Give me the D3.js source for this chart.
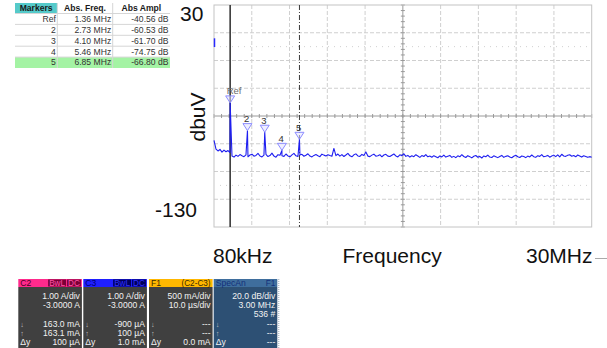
<!DOCTYPE html>
<html>
<head>
<meta charset="utf-8">
<script src="https://cdn.jsdelivr.net/npm/d3@7"></script>
<style>
  html, body { margin: 0; padding: 0; background: #fff; }
  svg { display: block; font-family: "Liberation Sans", Arial, sans-serif; }
</style>
</head>
<body>
<svg id="chart" width="607" height="348"></svg>
<script>
// ---- spectrum data (dBuV), evenly spaced bins from 80 kHz to 30 MHz ----
const freqStart = 0.08;   // MHz
const freqStop = 30;      // MHz
const ampTop = 30;
const ampBottom = -130;

const spectrum = [
  -67.5, -73.8, -75.2, -74.1, -76.0, -74.6, -75.8, -74.9, -76.3, -78.9,
  -79.6, -78.2, -79.1, -77.8, -78.6, -79.3, -78.0, -79.4, -78.1, -77.5,
  -79.0, -78.4, -76.9, -78.8, -79.5, -78.2, -77.6, -79.2, -78.5, -76.8,
  -78.9, -79.7, -77.9, -78.3, -78.6, -79.1, -77.4, -78.8, -79.4, -78.0,
  -76.9, -78.7, -79.2, -78.1, -77.6, -79.0, -78.3, -77.2, -78.9, -79.5,
  -78.4, -77.8, -78.6, -79.3, -77.5, -78.2, -78.8, -77.9, -78.5, -79.0,
  -73.4, -78.6, -77.4, -78.9, -77.8, -79.2, -78.1, -76.9, -78.7, -79.4,
  -78.0, -77.3, -78.8, -79.1, -77.7, -78.4, -75.9, -78.9, -79.3, -78.2,
  -77.5, -79.0, -78.6, -77.9, -79.4, -78.1, -77.6, -78.9, -79.2, -78.3,
  -77.4, -78.8, -79.5, -78.0, -78.6, -77.2, -79.1, -78.4, -79.6, -78.7,
  -79.3, -77.9, -78.8, -79.8, -78.5, -79.2, -77.8, -79.4, -78.9, -79.7,
  -78.6, -79.3, -80.1, -78.8, -79.5, -78.2, -79.6, -79.0, -78.4, -79.8,
  -79.1, -80.0, -78.7, -79.4, -77.9, -79.2, -79.9, -78.6, -79.3, -80.2,
  -79.0, -78.5, -79.7, -79.1, -80.3, -78.8, -79.4, -78.2, -79.6, -79.9,
  -78.7, -79.3, -80.0, -79.2, -78.4, -79.8, -79.1, -78.6, -79.5, -80.1,
  -79.0, -78.3, -79.4, -79.9, -78.8, -79.2, -80.0, -78.9, -79.5, -78.1,
  -79.3, -79.8, -78.6, -79.1, -77.8, -79.4, -79.0, -78.4, -79.7, -78.9,
  -78.2, -79.3, -78.0, -79.5, -77.6, -78.8, -79.1, -78.3, -77.9, -79.0,
  -78.5, -79.4, -78.1, -78.8, -79.6, -78.7, -79.2, -79.8, -79.3, -79.7
];

// ---- measured markers ----
const markerNames = ["Ref", "2", "3", "4", "5"];
const markerFreqs = [1.36, 2.73, 4.10, 5.46, 6.85];      // MHz
const markerAmps  = [-40.56, -60.53, -61.70, -74.75, -66.80]; // dB

// ---- axis text ----
const yTopLabel = "30";
const yBottomLabel = "-130";
const yTitle = "dbuV";
const xStartLabel = "80kHz";
const xTitle = "Frequency";
const xStopLabel = "30MHz";
const levelLines = [0, -100];      // faint dotted reference levels
const levelIndicator = [6, -0.3];  // short blue tick on the left edge

// ---- channel readout panels ----
const panelNames = ["C2", "C3", "F1", "SpecAn"];
const panelTags = [["BwL", "DC"], ["BwL", "DC"], ["(C2-C3)"], ["F1"]];
const panelRows = [
  ["1.00 A/div", "-3.0000 A", "", "163.0 mA", "163.1 mA", "100 µA"],
  ["1.00 A/div", "-3.0000 A", "", "-900 µA", "100 µA", "1.0 mA"],
  ["500 mA/div", "10.0 µs/div", "", "---", "---", "0.0 mA"],
  ["20.0 dB/div", "3.00 MHz", "536 #", "---", "---", "---"]
];
const panelRowIcons = ["", "", "", "↓", "↑", "Δy"];

// ---- marker table headings ----
const tableHeads = ["Markers", "Abs. Freq.", "Abs Ampl"];

// ================= drawing =================
const svg = d3.select("#chart");
const plot = { left: 214, right: 591.7, top: 5, bottom: 227 };

const x = d3.scaleLinear().domain([freqStart, freqStop]).range([plot.left, plot.right]);
const y = d3.scaleLinear().domain([ampTop, ampBottom]).range([plot.top, plot.bottom]);
const binFreq = d3.scaleLinear().domain([0, spectrum.length - 1]).range([freqStart, freqStop]);

// grid: 10 horizontal divisions, 8 vertical divisions
const xDivs = d3.range(11).map(i => freqStart + i * (freqStop - freqStart) / 10);
const yDivs = d3.range(ampTop, ampBottom - 1, -20);
const grid = svg.append("g");

grid.selectAll("line.vg").data(xDivs.slice(1, -1)).join("line")
  .attr("x1", d => x(d)).attr("x2", d => x(d))
  .attr("y1", plot.top).attr("y2", plot.bottom)
  .attr("stroke", (d, i) => i === 4 ? "#9a9a9a" : "#cfcfcf")
  .attr("stroke-dasharray", (d, i) => i === 4 ? null : "4,2")
  .attr("stroke-width", 1);

grid.selectAll("line.hg").data(yDivs.slice(1, -1)).join("line")
  .attr("x1", plot.left).attr("x2", plot.right)
  .attr("y1", d => y(d)).attr("y2", d => y(d))
  .attr("stroke", d => d === -50 ? "#9a9a9a" : "#cfcfcf")
  .attr("stroke-dasharray", d => d === -50 ? null : "4,2")
  .attr("stroke-width", 1);

grid.selectAll("line.lv").data(levelLines).join("line")
  .attr("x1", plot.left + 6).attr("x2", plot.right)
  .attr("y1", d => y(d)).attr("y2", d => y(d))
  .attr("stroke", "#d0d0d0").attr("stroke-dasharray", "1,5");

// minor ticks along the centre cross
const xMinor = d3.range(51).map(i => freqStart + i * (freqStop - freqStart) / 50);
const yMinor = d3.range(41).map(i => ampTop + i * (ampBottom - ampTop) / 40);
grid.selectAll("line.xm").data(xMinor).join("line")
  .attr("x1", d => x(d)).attr("x2", d => x(d))
  .attr("y1", y(-50) - 2).attr("y2", y(-50) + 2)
  .attr("stroke", "#9a9a9a");
grid.selectAll("line.ym").data(yMinor).join("line")
  .attr("x1", x(xDivs[5]) - 2).attr("x2", x(xDivs[5]) + 2)
  .attr("y1", d => y(d)).attr("y2", d => y(d))
  .attr("stroke", "#9a9a9a");

// frame
svg.append("rect")
  .attr("x", plot.left).attr("y", plot.top)
  .attr("width", plot.right - plot.left).attr("height", plot.bottom - plot.top)
  .attr("fill", "none").attr("stroke", "#c4c4c4");

// level indicator on the left edge
svg.append("line")
  .attr("x1", plot.left + 0.5).attr("x2", plot.left + 0.5)
  .attr("y1", y(levelIndicator[0])).attr("y2", y(levelIndicator[1]))
  .attr("stroke", "#2a2aff").attr("stroke-width", 1.5);

// cursor lines: solid at the reference marker, dash-dot at marker 5
svg.append("line")
  .attr("x1", x(markerFreqs[0])).attr("x2", x(markerFreqs[0]))
  .attr("y1", plot.top).attr("y2", plot.bottom)
  .attr("stroke", "#3a3a3a").attr("stroke-width", 1.6);
svg.append("line")
  .attr("x1", x(markerFreqs[4])).attr("x2", x(markerFreqs[4]))
  .attr("y1", plot.top).attr("y2", plot.bottom)
  .attr("stroke", "#3a3a3a").attr("stroke-width", 1)
  .attr("stroke-dasharray", "5,2,1,2");

// spectrum trace with the harmonic peaks merged in
const tracePts = spectrum.map((v, i) => [binFreq(i), v])
  .concat(markerFreqs.map((f, i) => [f, markerAmps[i]]))
  .sort((a, b) => a[0] - b[0]);
svg.append("path")
  .datum(tracePts)
  .attr("fill", "none")
  .attr("stroke", "#1f1ff0")
  .attr("stroke-width", 1.1)
  .attr("stroke-linejoin", "round")
  .attr("d", d3.line().x(d => x(d[0])).y(d => y(d[1])));

// marker triangles and names
const mk = svg.append("g");
markerFreqs.forEach((f, i) => {
  const cx = x(f), cy = y(markerAmps[i]);
  mk.append("path")
    .attr("d", `M${cx - 4.5},${cy - 7}L${cx + 4.5},${cy - 7}L${cx},${cy}Z`)
    .attr("fill", "rgba(225,225,255,0.55)")
    .attr("stroke", "#8c8cff").attr("stroke-width", 1);
  mk.append("text")
    .attr("x", cx - 3.5).attr("y", cy - 8.6)
    .attr("font-size", 9.5)
    .attr("fill", i === 0 ? "#6a6a6a" : "#333")
    .text(markerNames[i]);
});

// axis text
svg.append("text").attr("x", 180).attr("y", 20.5)
  .attr("font-size", 21).attr("fill", "#111").text(yTopLabel);
svg.append("text").attr("x", 197).attr("y", 216.5).attr("text-anchor", "end")
  .attr("font-size", 21).attr("fill", "#111").text(yBottomLabel);
svg.append("text")
  .attr("transform", "translate(205,117) rotate(-90)")
  .attr("text-anchor", "middle")
  .attr("font-size", 21).attr("fill", "#111").text(yTitle);
svg.append("text").attr("x", 213).attr("y", 262.5)
  .attr("font-size", 21).attr("fill", "#111").text(xStartLabel);
svg.append("text").attr("x", 342.5).attr("y", 262.5)
  .attr("font-size", 21).attr("fill", "#111").text(xTitle);
svg.append("text").attr("x", 592.5).attr("y", 262.5).attr("text-anchor", "end")
  .attr("font-size", 21).attr("fill", "#111").text(xStopLabel);
svg.append("line").attr("x1", 595).attr("x2", 607).attr("y1", 258.5).attr("y2", 258.5)
  .attr("stroke", "#aaa");

// ---- marker table ----
const tbl = svg.append("g");
const colX = [15, 57.3, 112.7, 170];
const headTop = 3, headH = 10.5, rowH = 10.9;
tbl.append("rect").attr("x", colX[0]).attr("y", headTop)
  .attr("width", colX[1] - colX[0]).attr("height", headH).attr("fill", "#55caca");
tbl.append("rect").attr("x", colX[0]).attr("y", headTop + headH + 4 * rowH)
  .attr("width", colX[3] - colX[0]).attr("height", rowH).attr("fill", "#a4f3a4");
tableHeads.forEach((h, c) => {
  tbl.append("text")
    .attr("x", (colX[c] + colX[c + 1]) / 2).attr("y", headTop + 8)
    .attr("text-anchor", "middle").attr("font-size", 8.6).attr("font-weight", "bold")
    .attr("fill", "#1a1a1a").text(h);
});
const rowsY = d3.range(markerNames.length).map(r => headTop + headH + r * rowH);
rowsY.forEach((ry, r) => {
  tbl.append("line").attr("x1", colX[0]).attr("x2", colX[3])
    .attr("y1", ry).attr("y2", ry).attr("stroke", "#d6d6d6");
  const cells = [markerNames[r], markerFreqs[r].toFixed(2) + " MHz", markerAmps[r].toFixed(2) + " dB"];
  cells.forEach((t, c) => {
    tbl.append("text")
      .attr("x", colX[c + 1] - 1.5).attr("y", ry + 8.3)
      .attr("text-anchor", "end").attr("font-size", 8.6)
      .attr("fill", "#333").text(t);
  });
});
colX.slice(1, 3).forEach(cx => {
  tbl.append("line").attr("x1", cx).attr("x2", cx)
    .attr("y1", headTop).attr("y2", headTop + headH + 5 * rowH).attr("stroke", "#d6d6d6");
});

// ---- readout panels ----
const panelX = [18.3, 83.3, 149, 213.7];
const panelW = 63.6;
const panelStyle = [
  { head: "#ff2a8c", title: "#4a0024", tagBg: "#7a0038", tagFg: "#ff55a8", body: "#404040" },
  { head: "#1f1fff", title: "#000070", tagBg: "#00005c", tagFg: "#3030ff", body: "#404040" },
  { head: "#ffb700", title: "#3a2a00", tagBg: null, tagFg: "#3a2a00", body: "#404040" },
  { head: "#3f6e9d", title: "#14307a", tagBg: null, tagFg: "#14307a", body: "#2d5074" }
];
const headY = 279, headHgt = 8;
panelNames.forEach((name, p) => {
  const g = svg.append("g");
  const st = panelStyle[p];
  const px = panelX[p];
  g.append("rect").attr("x", px).attr("y", headY + headHgt)
    .attr("width", panelW).attr("height", 348 - headY - headHgt).attr("fill", st.body);
  g.append("rect").attr("x", px).attr("y", headY)
    .attr("width", panelW).attr("height", headHgt).attr("fill", st.head);
  g.append("text").attr("x", px + 2).attr("y", headY + 7)
    .attr("font-size", 8.6).attr("fill", st.title).text(name);
  // header tags, right-aligned
  let right = px + panelW - 1;
  panelTags[p].slice().reverse().forEach(tag => {
    const t = g.append("text").attr("x", right - 1).attr("y", headY + 7)
      .attr("text-anchor", "end").attr("font-size", 8.2)
      .attr("fill", st.tagFg).text(tag);
    const w = t.node().getComputedTextLength();
    if (st.tagBg) {
      g.insert("rect", "text:last-of-type")
        .attr("x", right - w - 2).attr("y", headY + 0.5)
        .attr("width", w + 2).attr("height", headHgt - 1)
        .attr("fill", st.tagBg);
      t.raise();
    }
    right = right - w - 3;
  });
  // body rows
  panelRows[p].forEach((txt, r) => {
    const by = 299 + r * 9.2;
    g.append("text").attr("x", px + panelW - 2).attr("y", by)
      .attr("text-anchor", "end").attr("font-size", 8.6)
      .attr("fill", "#f2f2f2").text(txt);
    if (panelRowIcons[r]) {
      g.append("text").attr("x", px + 2).attr("y", by)
        .attr("font-size", r === 5 ? 8.6 : 7.5)
        .attr("fill", r === 5 ? "#f2f2f2" : "#bdbdbd").text(panelRowIcons[r]);
    }
  });
});
// dotted right edge beside the last panel
svg.append("line").attr("x1", 278.8).attr("x2", 278.8).attr("y1", headY).attr("y2", 348)
  .attr("stroke", "#9ab").attr("stroke-dasharray", "1,1");
</script>
</body>
</html>
